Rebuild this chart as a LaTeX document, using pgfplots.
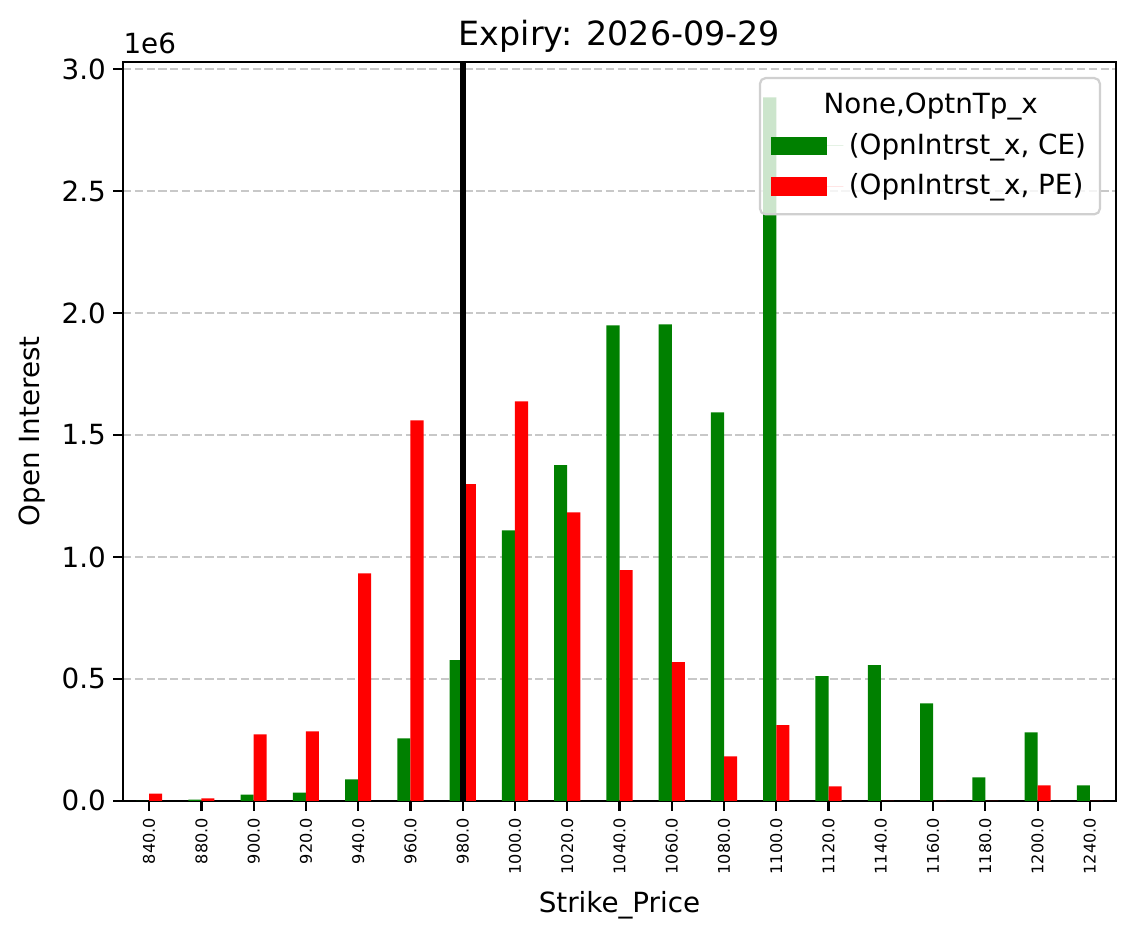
\documentclass[border=0pt]{standalone}
\usepackage{pgfplots}
\pgfplotsset{compat=1.18}
\usepackage{pgfplotstable}
\usepackage{calc}
\usepackage{fontspec}
\setmainfont{DejaVu Sans}

\definecolor{mplgreen}{HTML}{008000}
\definecolor{mplred}{HTML}{FF0000}
\definecolor{gridgray}{HTML}{C8C8C8}
\definecolor{legedge}{HTML}{D0D0D0}

% open interest per strike (CE = calls, PE = puts)
\pgfplotstableread{
idx strike ce pe
0 840 0 30000
1 880 5000 10000
2 900 26000 273000
3 920 34000 285000
4 940 88000 933000
5 960 256000 1560000
6 980 577000 1298000
7 1000 1109000 1638000
8 1020 1376000 1183000
9 1040 1949000 946000
10 1060 1953000 569000
11 1080 1593000 182000
12 1100 2884000 310000
13 1120 511000 59000
14 1140 556000 0
15 1160 400000 0
16 1180 96000 0
17 1200 281000 63000
18 1240 63000 0
}\oitable

\pgfplotsset{
  patchlegend/.style={legend image code/.code={
      \fill[##1, sharp corners, fill opacity=1] (1bp,-3.3bp) rectangle (21bp,3.3bp);
      \path (21bp,0bp) -- (27bp,0bp);}},
}

\begin{document}
\begin{tikzpicture}
\begin{axis}[
    scale only axis,
    width=357.5bp,
    height=266bp,
    xmin=-0.5, xmax=18.5,
    ymin=0, ymax=3029000,
    axis line style={line width=0.8bp},
    tick style={black, line width=0.8bp},
    major tick length=3.5bp,
    tick align=outside,
    xtick pos=bottom,
    ytick pos=left,
    xtick={0,1,2,3,4,5,6,7,8,9,10,11,12,13,14,15,16,17,18},
    xticklabels={840.0,880.0,900.0,920.0,940.0,960.0,980.0,1000.0,1020.0,1040.0,1060.0,1080.0,1100.0,1120.0,1140.0,1160.0,1180.0,1200.0,1240.0},
    x tick label style={rotate=90, anchor=east, font=\fontsize{5.8bp}{7bp}\selectfont, inner sep=2.5bp},
    ytick={0,500000,1000000,1500000,2000000,2500000,3000000},
    yticklabels={0.0,0.5,1.0,1.5,2.0,2.5,3.0},
    scaled y ticks=false,
    y tick label style={font=\fontsize{10bp}{12bp}\selectfont, inner sep=2.5bp},
    /pgf/number format/assume math mode=true,
    ymajorgrids=true,
    grid style={gridgray, line width=0.8bp, dash pattern=on 2.96bp off 1.28bp},
    title={Expiry: 2026-09-29},
    every axis title shift=0pt,
    title style={at={(0.5,1)}, anchor=base, yshift=6bp, font=\fontsize{12bp}{14bp}\selectfont},
    xlabel={Strike\_Price},
    ylabel={Open Interest},
    label style={font=\fontsize{10bp}{12bp}\selectfont},
    legend cell align=left,
    legend style={at={(0.9849,0.9797)}, anchor=north east,
        draw=legedge, line width=0.8bp, rounded corners=2bp,
        fill=white, fill opacity=0.8, text opacity=1,
        inner xsep=3bp, inner ysep=3.5bp, row sep=1.5bp,
        font=\fontsize{10bp}{12bp}\selectfont},
]
\addlegendimage{empty legend}
\addlegendentry{\hspace*{-13.2bp}\makebox[\widthof{(OpnIntrst\_x, CE)}][c]{None,OptnTp\_x}}

\addplot[ybar, bar width=0.25, bar shift=-0.125, fill=mplgreen, draw=none, patchlegend]
    table[x=idx, y=ce] {\oitable};
\addlegendentry{(OpnIntrst\_x, CE)}
\addplot[ybar, bar width=0.25, bar shift=0.125, fill=mplred, draw=none, patchlegend]
    table[x=idx, y=pe] {\oitable};
\addlegendentry{(OpnIntrst\_x, PE)}

% spot marker at the 980 strike
\addplot[sharp plot, black, line width=2.2bp, forget plot] coordinates {(6,0) (6,3029000)};

\coordinate (ll) at (rel axis cs:0,0);
\coordinate (ur) at (rel axis cs:1,1);
\end{axis}
\node[anchor=base west, inner sep=0pt, font=\fontsize{10bp}{12bp}\selectfont]
    at ([yshift=3bp]ll |- ur) {1e6};
\path ([shift={(-44.28bp,-49.68bp)}]ll) rectangle ([shift={(6.48bp,22.32bp)}]ur);
\end{tikzpicture}
\end{document}
